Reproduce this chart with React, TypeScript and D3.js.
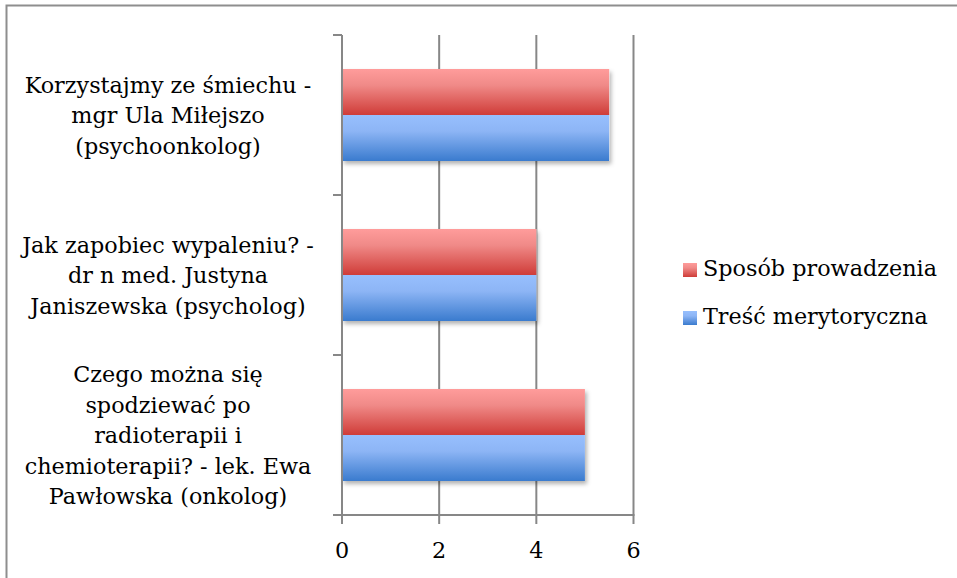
import React from "react";
import * as d3 from "d3";

const categories: string[][] = [
  ["Korzystajmy ze śmiechu -", "mgr Ula Miłejszo", "(psychoonkolog)"],
  ["Jak zapobiec wypaleniu? -", "dr n med. Justyna", "Janiszewska (psycholog)"],
  ["Czego można się", "spodziewać po", "radioterapii i", "chemioterapii? - lek. Ewa", "Pawłowska (onkolog)"],
];
const seriesNames = ["Sposób prowadzenia", "Treść merytoryczna"];
const sposobValues = [5.5, 4, 5];
const trescValues = [5.5, 4, 5];
const xTicks = [0, 2, 4, 6];

const W = 957;
const H = 578;
const FONT = "'DejaVu Serif', serif";
const FS = 22.3;

export default function App() {
  const x = d3.scaleLinear().domain([0, 6]).range([342, 633.5]);
  const keys = categories.map((_, i) => String(i));
  const y = d3.scaleBand<string>().domain(keys).range([35, 515]).paddingInner(0).paddingOuter(0);
  const bw = y.bandwidth();
  const groupH = bw * 0.575;
  const barH = groupH / 2;
  const series = [
    { name: seriesNames[0], values: sposobValues, grad: "gRed" },
    { name: seriesNames[1], values: trescValues, grad: "gBlue" },
  ];
  const gridColor = "#878787";
  const lineH = 30.5;

  return (
    <svg width={W} height={H} style={{ position: "absolute", left: 0, top: 0 }} fontFamily={FONT}>
      <defs>
        <linearGradient id="gRed" x1="0" y1="0" x2="0" y2="1">
          <stop offset="0" stopColor="#FF9C9B" />
          <stop offset="0.35" stopColor="#F08A88" />
          <stop offset="1" stopColor="#CF3C38" />
        </linearGradient>
        <linearGradient id="gBlue" x1="0" y1="0" x2="0" y2="1">
          <stop offset="0" stopColor="#97BFFD" />
          <stop offset="0.35" stopColor="#8DB5F5" />
          <stop offset="1" stopColor="#3A7BCE" />
        </linearGradient>
        <filter id="shadow" x="-5%" y="-20%" width="115%" height="150%">
          <feDropShadow dx="2" dy="3" stdDeviation="2" floodColor="#000" floodOpacity="0.3" />
        </filter>
      </defs>
      <rect x={0} y={0} width={W} height={H} fill="#fff" />
      <path d={`M6.5,${H} V5.5 H${W}`} fill="none" stroke="#8e8e8e" strokeWidth={2} />

      {/* gridlines */}
      {xTicks.slice(1).map((t) => (
        <line key={"g" + t} x1={x(t)} x2={x(t)} y1={35} y2={515} stroke={gridColor} strokeWidth={2} />
      ))}

      {/* bars */}
      {categories.map((_, i) => {
        const y0 = (y(String(i)) as number) + (bw - groupH) / 2;
        const w = x(series[0].values[i]) - x(0);
        return (
          <g key={"b" + i}>
            <rect x={x(0)} y={y0} width={w} height={groupH} fill="#fff" filter="url(#shadow)" />
            {series.map((s, j) => (
              <rect
                key={s.name}
                x={x(0)}
                y={y0 + j * barH}
                width={x(s.values[i]) - x(0)}
                height={barH}
                fill={`url(#${s.grad})`}
              />
            ))}
          </g>
        );
      })}

      {/* y axis */}
      <line x1={x(0)} x2={x(0)} y1={35} y2={516} stroke={gridColor} strokeWidth={2} />
      {[...keys.map((k) => y(k) as number), 515].map((v, i) => (
        <line key={"yt" + i} x1={333} x2={x(0)} y1={v} y2={v} stroke={gridColor} strokeWidth={2} />
      ))}
      {/* x axis */}
      <line x1={333} x2={x(6) + 1} y1={515} y2={515} stroke={gridColor} strokeWidth={2} />
      {xTicks.map((t) => (
        <g key={"xt" + t}>
          <line x1={x(t)} x2={x(t)} y1={515} y2={524} stroke={gridColor} strokeWidth={2} />
          <text x={x(t)} y={558} textAnchor="middle" fontSize={FS} fill="#000">
            {t}
          </text>
        </g>
      ))}

      {/* category labels */}
      {categories.map((lines, i) => {
        const cy = (y(String(i)) as number) + bw / 2;
        const start = cy - ((lines.length - 1) * lineH) / 2;
        return (
          <text key={"c" + i} textAnchor="middle" fontSize={FS} fill="#000">
            {lines.map((l, j) => (
              <tspan key={j} x={168} y={start + j * lineH + 8}>
                {l}
              </tspan>
            ))}
          </text>
        );
      })}

      {/* legend */}
      {series.map((s, j) => (
        <g key={"l" + s.name} transform={`translate(683, ${263 + j * 48})`}>
          <rect x={0} y={0} width={14} height={14} fill={`url(#${s.grad})`} />
          <text x={20} y={13} fontSize={FS} fill="#000">
            {s.name}
          </text>
        </g>
      ))}
    </svg>
  );
}
